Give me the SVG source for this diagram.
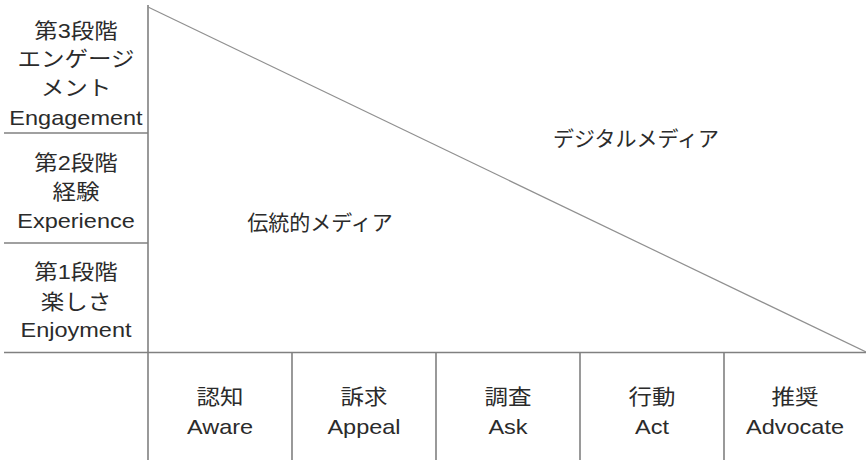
<svg xmlns="http://www.w3.org/2000/svg" width="866" height="460" viewBox="0 0 866 460">
<style>
.ln{stroke:#808080;stroke-width:1.6;fill:none}
.dg{stroke:#909090;stroke-width:1.2;fill:none}
text{font-family:"Liberation Sans","Noto Sans CJK JP",sans-serif;font-size:21px;fill:#2b2b2b;text-anchor:middle;dominant-baseline:central}
.big{font-size:21px}
</style>
<rect width="866" height="460" fill="#fff"/>
<g id="connectors">
<line class="ln" x1="148" y1="5" x2="148" y2="460"/>
<line class="ln" x1="4" y1="352.5" x2="866" y2="352.5"/>
<line class="ln" x1="4" y1="133" x2="148" y2="133"/>
<line class="ln" x1="4" y1="243" x2="148" y2="243"/>
<line class="ln" x1="292" y1="352" x2="292" y2="460"/>
<line class="ln" x1="436" y1="352" x2="436" y2="460"/>
<line class="ln" x1="580" y1="352" x2="580" y2="460"/>
<line class="ln" x1="724" y1="352" x2="724" y2="460"/>
<line class="dg" x1="148" y1="7" x2="866" y2="352"/>
</g>
<g id="stage3">
<text transform="translate(76,31) scale(1.12,1)">第3段階</text>
<text transform="translate(76,59) scale(1.12,1)">エンゲージ</text>
<text transform="translate(76,88) scale(1.12,1)">メント</text>
<text transform="translate(76,118) scale(1.12,1)">Engagement</text>
</g>
<g id="stage2">
<text transform="translate(76,163) scale(1.12,1)">第2段階</text>
<text transform="translate(76,192) scale(1.12,1)">経験</text>
<text transform="translate(76,221) scale(1.12,1)">Experience</text>
</g>
<g id="stage1">
<text transform="translate(76,272) scale(1.12,1)">第1段階</text>
<text transform="translate(76,302) scale(1.12,1)">楽しさ</text>
<text transform="translate(76,330) scale(1.12,1)">Enjoyment</text>
</g>
<g id="aware">
<text transform="translate(220,397) scale(1.12,1)">認知</text>
<text transform="translate(220,427) scale(1.12,1)">Aware</text>
</g>
<g id="appeal">
<text transform="translate(364,397) scale(1.12,1)">訴求</text>
<text transform="translate(364,427) scale(1.12,1)">Appeal</text>
</g>
<g id="ask">
<text transform="translate(508,397) scale(1.12,1)">調査</text>
<text transform="translate(508,427) scale(1.12,1)">Ask</text>
</g>
<g id="act">
<text transform="translate(652,397) scale(1.12,1)">行動</text>
<text transform="translate(652,427) scale(1.12,1)">Act</text>
</g>
<g id="advocate">
<text transform="translate(795,397) scale(1.12,1)">推奨</text>
<text transform="translate(795,427) scale(1.12,1)">Advocate</text>
</g>
<g id="traditional">
<text class="big" x="320" y="222">伝統的メディア</text>
</g>
<g id="digital">
<text class="big" x="636" y="138">デジタルメディア</text>
</g>
</svg>
